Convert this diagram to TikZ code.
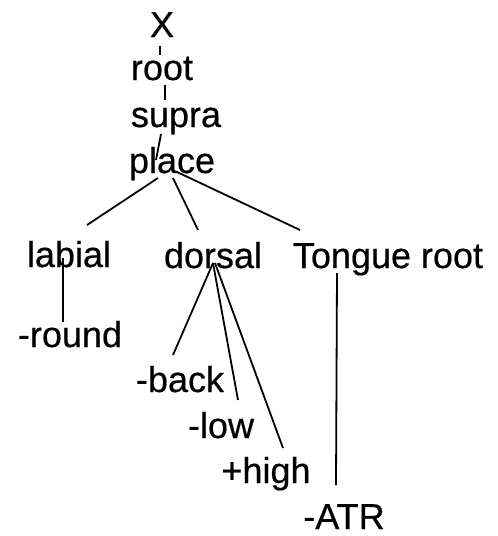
\documentclass[tikz,border=0pt]{standalone}
\usepackage{fontspec}
\setmainfont{Liberation Sans}
\newfontfamily\lblfont{Liberation Sans}[FakeBold=0.5]
\usetikzlibrary{calc}
\begin{document}
\begin{tikzpicture}[x=1pt,y=-1pt,
  lbl/.style={anchor=base,inner sep=0pt,font=\lblfont\fontsize{36}{40}\selectfont},
  conn/.style={line width=1.8pt}]
\useasboundingbox (0,0) rectangle (498,536);
\node[lbl] (X) at (162,37) {X};
\node[lbl] (root) at (162,80) {root};
\node[lbl] (supra) at (176,127) {supra};
\node[lbl] (place) at (172,173) {place};
\node[lbl] (labial) at (69,267) {labial};
\node[lbl] (dorsal) at (213,268) {dorsal};
\node[lbl] (tongue) at (388,268) {Tongue root};
\node[lbl] (round) at (70,347) {-round};
\node[lbl] (back) at (180,392) {-back};
\node[lbl] (low) at (221,438) {-low};
\node[lbl] (high) at (266,483) {+high};
\node[lbl] (atr) at (344,529) {-ATR};
\draw[conn] ($(X.base)+(-2,9)$) -- ($(root.base)+(-2,-25)$);
\draw[conn] ($(root.base)+(3,5)$) -- ($(supra.base)+(-11,-27)$);
\draw[conn] ($(supra.base)+(-15,7)$) -- ($(place.base)+(-16,-13)$);
\draw[conn] ($(place.base)+(-14,5)$) -- ($(labial.base)+(18,-42)$);
\draw[conn] ($(place.base)+(1,5)$) -- ($(dorsal.base)+(-15,-38)$);
\draw[conn] ($(place.base)+(5,-1)$) -- ($(tongue.base)+(-88,-38)$);
\draw[conn] ($(labial.base)+(-6,-9)$) -- ($(round.base)+(-7,-25)$);
\draw[conn] ($(dorsal.base)+(0,-5)$) -- ($(back.base)+(-7,-37)$);
\draw[conn] ($(dorsal.base)+(0,-5)$) -- ($(low.base)+(17,-38)$);
\draw[conn] ($(dorsal.base)+(2,-5)$) -- ($(high.base)+(17,-35)$);
\draw[conn] ($(tongue.base)+(-51,5)$) -- ($(atr.base)+(-8,-44)$);
\end{tikzpicture}
\end{document}
